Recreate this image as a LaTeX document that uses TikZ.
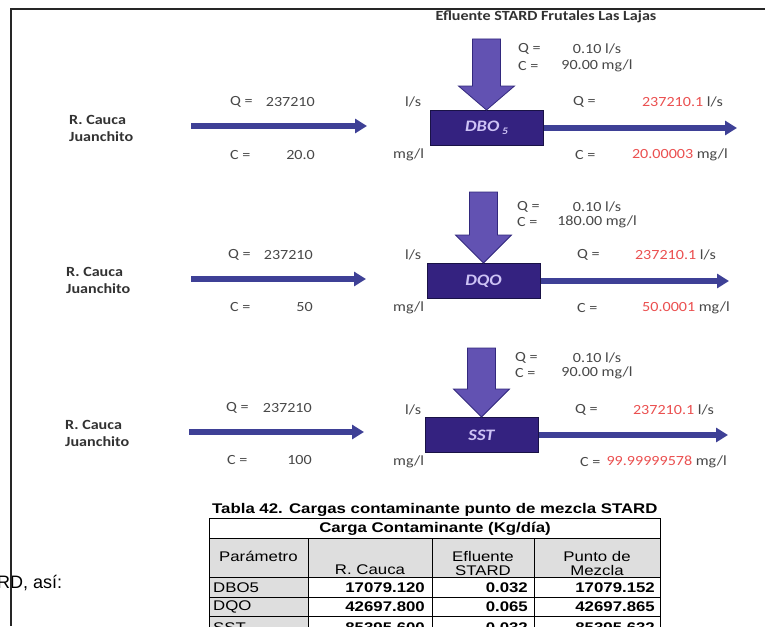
\documentclass[tikz,border=0pt]{standalone}
\usepackage{fontspec}
\setmainfont{Carlito}[FakeStretch=1.15]
\newfontfamily\tabfont{Liberation Sans}[FakeStretch=1.2]
\newfontfamily\docfont{Liberation Sans}
\usetikzlibrary{arrows.meta}

\definecolor{flowblue}{RGB}{62,64,150}
\definecolor{inflowfill}{RGB}{98,82,178}
\definecolor{inflowedge}{RGB}{50,40,125}
\definecolor{boxfill}{RGB}{52,34,128}
\definecolor{boxedge}{RGB}{25,18,70}
\definecolor{boxtext}{RGB}{205,195,245}
\definecolor{txtgray}{RGB}{72,72,72}
\definecolor{txtdark}{RGB}{50,50,50}
\definecolor{valred}{RGB}{235,80,80}
\definecolor{cellgray}{RGB}{222,222,222}

\newcommand{\lblsize}{\fontsize{14}{17}\selectfont}
\newcommand{\boxsize}{\fontsize{16}{17}\selectfont}
\newcommand{\tabsize}{\tabfont\fontsize{14}{14}\selectfont}

\begin{document}
\begin{tikzpicture}[x=1pt,y=-1pt,
  lbl/.style={font=\lblsize, text=txtgray, inner sep=0pt},
  boldlbl/.style={font=\lblsize\bfseries, text=txtdark, inner sep=0pt, align=left},
  river/.style={draw=flowblue, line width=5.5pt, -{Triangle[length=12pt,width=14pt]}},
  parambox/.style={draw=boxedge, fill=boxfill, line width=1pt, minimum width=113pt,
    minimum height=35pt, inner sep=0pt, text=boxtext, font=\boxsize\bfseries\itshape},
  inflow/.style={fill=inflowfill, draw=inflowedge, line width=0.8pt},
  tabtxt/.style={font=\tabsize, inner sep=0pt, align=center},
  tabnum/.style={font=\tabsize\bfseries, inner sep=0pt, anchor=east},
  tabline/.style={draw=black, line width=0.7pt}]
  \useasboundingbox (0,0) rectangle (765,626);
  \clip (0,0) rectangle (765,626);
  \fill[white] (0,0) rectangle (765,626);

  \node[boldlbl] (title) at (546,17) {Efluente STARD Frutales Las Lajas};

  % DBO5
  \node[boldlbl, anchor=west] (rio1) at (69,128) {R. Cauca\\Juanchito};
  \coordinate (in1a) at (191,126);
  \coordinate (in1b) at (367,126);
  \draw[river] (in1a) -- (in1b);
  \node[parambox] (dbo) at (486.5,128) {DBO\,\raisebox{-0.4ex}{\fontsize{10}{10}\selectfont 5}};
  \filldraw[inflow] (dbo.north) -- ++(28,-24) -- ++(-14,0) -- ++(0,-47)
    -- ++(-28,0) -- ++(0,47) -- ++(-14,0) -- cycle;
  \coordinate (out1) at (737,128);
  \draw[river] (dbo.east) -- (out1);
  \node[lbl, anchor=west] (q1) at (230,102) {Q =};
  \node[lbl, anchor=east] (q1v) at (315,102) {237210};
  \node[lbl, anchor=west] (q1u) at (405,102) {l/s};
  \node[lbl, anchor=west] (c1) at (230,155) {C =};
  \node[lbl, anchor=east] (c1v) at (315,155) {20.0};
  \node[lbl, anchor=west] (c1u) at (393,155) {mg/l};
  \node[lbl, anchor=west] (qe1) at (518,49) {Q =};
  \node[lbl] (qe1v) at (597,49) {0.10 l/s};
  \node[lbl, anchor=west] (ce1) at (518,66) {C =};
  \node[lbl] (ce1v) at (597,66) {90.00 mg/l};
  \node[lbl, anchor=west] (qm1) at (573,102) {Q =};
  \node[lbl, anchor=east] (qm1v) at (723,102) {\textcolor{valred}{237210.1} l/s};
  \node[lbl, anchor=west] (cm1) at (575,155) {C =};
  \node[lbl, anchor=east] (cm1v) at (728,155) {\textcolor{valred}{20.00003} mg/l};

  % DQO
  \node[boldlbl, anchor=west] (rio2) at (66,280) {R. Cauca\\Juanchito};
  \coordinate (in2a) at (191,279);
  \coordinate (in2b) at (366,279);
  \draw[river] (in2a) -- (in2b);
  \node[parambox] (dqo) at (483.5,281) {DQO};
  \filldraw[inflow] (dqo.north) -- ++(28,-28) -- ++(-14,0) -- ++(0,-43)
    -- ++(-28,0) -- ++(0,43) -- ++(-14,0) -- cycle;
  \coordinate (out2) at (729,281);
  \draw[river] (dqo.east) -- (out2);
  \node[lbl, anchor=west] (q2) at (228,255) {Q =};
  \node[lbl, anchor=east] (q2v) at (313,255) {237210};
  \node[lbl, anchor=west] (q2u) at (405,255) {l/s};
  \node[lbl, anchor=west] (c2) at (230,307) {C =};
  \node[lbl, anchor=east] (c2v) at (313,307) {50};
  \node[lbl, anchor=west] (c2u) at (393,308) {mg/l};
  \node[lbl, anchor=west] (qe2) at (517,207) {Q =};
  \node[lbl] (qe2v) at (597,207) {0.10 l/s};
  \node[lbl, anchor=west] (ce2) at (517,222) {C =};
  \node[lbl] (ce2v) at (597,222) {180.00 mg/l};
  \node[lbl, anchor=west] (qm2) at (577,255) {Q =};
  \node[lbl, anchor=east] (qm2v) at (716,255) {\textcolor{valred}{237210.1} l/s};
  \node[lbl, anchor=west] (cm2) at (577,308) {C =};
  \node[lbl, anchor=east] (cm2v) at (730,308) {\textcolor{valred}{50.0001} mg/l};

  % SST
  \node[boldlbl, anchor=west] (rio3) at (65,433) {R. Cauca\\Juanchito};
  \coordinate (in3a) at (189,432);
  \coordinate (in3b) at (364,432);
  \draw[river] (in3a) -- (in3b);
  \node[parambox] (sst) at (481.5,435) {SST};
  \filldraw[inflow] (sst.north) -- ++(28,-28) -- ++(-14,0) -- ++(0,-41)
    -- ++(-28,0) -- ++(0,41) -- ++(-14,0) -- cycle;
  \coordinate (out3) at (728,435);
  \draw[river] (sst.east) -- (out3);
  \node[lbl, anchor=west] (q3) at (226,408) {Q =};
  \node[lbl, anchor=east] (q3v) at (312,408) {237210};
  \node[lbl, anchor=west] (q3u) at (405,410) {l/s};
  \node[lbl, anchor=west] (c3) at (227,460) {C =};
  \node[lbl, anchor=east] (c3v) at (312,460) {100};
  \node[lbl, anchor=west] (c3u) at (393,462) {mg/l};
  \node[lbl, anchor=west] (qe3) at (515,358) {Q =};
  \node[lbl] (qe3v) at (597,358) {0.10 l/s};
  \node[lbl, anchor=west] (ce3) at (515,373) {C =};
  \node[lbl] (ce3v) at (597,373) {90.00 mg/l};
  \node[lbl, anchor=west] (qm3) at (575,410) {Q =};
  \node[lbl, anchor=east] (qm3v) at (714,410) {\textcolor{valred}{237210.1} l/s};
  \node[lbl, anchor=west] (cm3) at (580,462) {C =};
  \node[lbl, anchor=east] (cm3v) at (727,462) {\textcolor{valred}{99.99999578} mg/l};

  % tabla 42
  \node[tabtxt, font=\tabsize\bfseries, anchor=west] (cap) at (212,510)
    {Tabla 42. Cargas contaminante punto de mezcla STARD};
  \fill[cellgray] (209,538) rectangle (660,577);
  \fill[cellgray] (209,577) rectangle (308,640);
  \draw[tabline] (209,518) rectangle (660,640);
  \draw[tabline] (209,538) -- (660,538);
  \draw[tabline] (209,577) -- (660,577);
  \draw[tabline] (209,597) -- (660,597);
  \draw[tabline] (209,616) -- (660,616);
  \draw[tabline] (308,538) -- (308,640);
  \draw[tabline] (432,538) -- (432,640);
  \draw[tabline] (534,538) -- (534,640);
  \node[tabtxt, font=\tabsize\bfseries] (carga) at (435,529) {Carga Contaminante (Kg/día)};
  \node[tabtxt, anchor=west] (parhead) at (219,556) {Parámetro};
  \node[tabtxt] (riohead) at (370,570) {R. Cauca};
  \node[tabtxt] (efhead) at (483,563) {Efluente\\STARD};
  \node[tabtxt] (mixhead) at (597,563) {Punto de\\Mezcla};
  \node[tabtxt, anchor=west] (dborow) at (213,588) {DBO5};
  \node[tabnum] (dbo1) at (425,588) {17079.120};
  \node[tabnum] (dbo2) at (528,588) {0.032};
  \node[tabnum] (dbo3) at (655,588) {17079.152};
  \node[tabtxt, anchor=west] (dqorow) at (213,607) {DQO};
  \node[tabnum] (dqo1) at (425,607) {42697.800};
  \node[tabnum] (dqo2) at (528,607) {0.065};
  \node[tabnum] (dqo3) at (655,607) {42697.865};
  \node[tabtxt, anchor=west] (sstrow) at (213,628) {SST};
  \node[tabnum] (sst1) at (425,628) {85395.600};
  \node[tabnum] (sst2) at (528,628) {0.032};
  \node[tabnum] (sst3) at (655,628) {85395.632};

  \node[font=\docfont\fontsize{18}{18}\selectfont, inner sep=0pt, anchor=west] (asi) at (-3,583) {RD, así:};

  % marco
  \draw[line width=2.2pt, black!85] (11,626) -- (11,9) -- (765,9);
\end{tikzpicture}
\end{document}
